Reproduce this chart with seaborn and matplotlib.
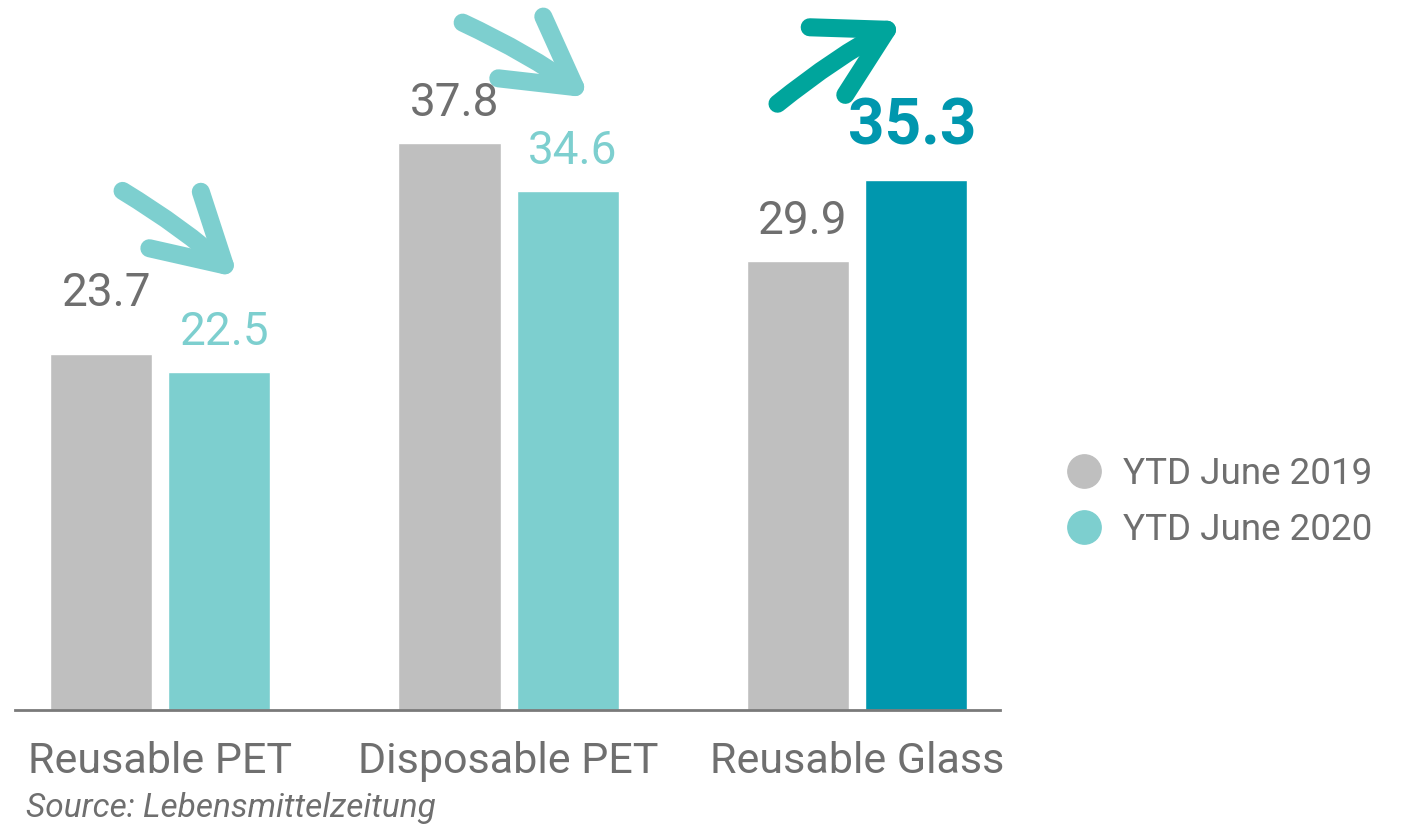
import matplotlib
matplotlib.use("Agg")
import matplotlib.pyplot as plt
import seaborn as sns
import pandas as pd
from matplotlib.patches import FancyArrowPatch
from matplotlib.lines import Line2D

categories = ["Reusable PET", "Disposable PET", "Reusable Glass"]
series_names = ["YTD June 2019", "YTD June 2020"]
values_2019 = [23.7, 37.8, 29.9]
values_2020 = [22.5, 34.6, 35.3]

GRAY = "#bfbfbf"
TEAL = "#7dcfcf"
DARK = "#0097ae"
ARROW_DARK = "#00a59c"
TXT = "#6f6f6f"

sns.set_theme(style="white")
plt.rcParams["font.family"] = ["Roboto", "DejaVu Sans"]

df = pd.DataFrame({
    "category": categories * 2,
    "series": [series_names[0]] * 3 + [series_names[1]] * 3,
    "value": values_2019 + values_2020,
})

fig = plt.figure(figsize=(14.04, 8.24), dpi=100)
ax = fig.add_axes([15 / 1404, 1 - 710 / 824, 985 / 1404, 710 / 824])

sns.barplot(data=df, x="category", y="value", hue="series",
            palette=[GRAY, TEAL], width=0.678, gap=0.136,
            saturation=1, ax=ax, legend=False, errorbar=None)

ax.set_xlim(-0.417, 2.411)
ax.set_ylim(0, 47.33)

# recolor highlighted bar
bars_2020 = ax.containers[1]
bars_2020[2].set_facecolor(DARK)

# value labels
for bars, vals, ser in [(ax.containers[0], values_2019, 0), (ax.containers[1], values_2020, 1)]:
    for i, (b, v) in enumerate(zip(bars, vals)):
        xc = b.get_x() + b.get_width() / 2
        if ser == 1 and i == 2:
            ax.text(xc - 0.01, v + 1.5, f"{v:.1f}", ha="center", va="bottom",
                    fontsize=46, fontweight="bold", color=DARK)
        else:
            extra = 2.6 if (ser == 0 and i == 0) else 1.2
            ax.text(xc + 0.015, v + extra, f"{v:.1f}", ha="center", va="bottom",
                    fontsize=33, color=TEAL if ser == 1 else TXT)

# decorative arrows
def arrow(p0, p1, color):
    a = FancyArrowPatch(p0, p1, arrowstyle="->,head_length=2.2,head_width=1.25",
                        mutation_scale=22, lw=13, color=color,
                        capstyle="round", joinstyle="round",
                        connectionstyle="arc3,rad=-0.05")
    ax.add_patch(a)

arrow((-0.115, 34.7), (0.23, 28.7), TEAL)
arrow((0.861, 45.9), (1.24, 40.7), TEAL)
arrow((1.766, 40.3), (2.14, 46.0), ARROW_DARK)
for p in ax.patches:
    p.set_clip_on(False)

# axes styling
for s in ["top", "right", "left"]:
    ax.spines[s].set_visible(False)
ax.spines["bottom"].set_color("#7a7a7a")
ax.spines["bottom"].set_linewidth(2)
ax.set_yticks([])
ax.set_xlabel("")
ax.set_ylabel("")
ax.tick_params(axis="x", length=0, pad=22, labelsize=31, labelcolor=TXT)

# legend
handles = [Line2D([], [], marker="o", ls="", markersize=24, color=GRAY),
           Line2D([], [], marker="o", ls="", markersize=24, color=TEAL)]
fig.legend(handles, series_names, loc="center left", bbox_to_anchor=(1040 / 1404, 1 - 502 / 824),
           frameon=False, fontsize=26.5, labelcolor=TXT, handletextpad=0.55,
           labelspacing=0.55, handlelength=1.0, borderpad=0.2)

fig.text(26 / 1404, 1 - 808 / 824, "Source: Lebensmittelzeitung", fontsize=24,
         style="italic", color=TXT, ha="left", va="center")

fig.savefig("out.png", dpi=100)
